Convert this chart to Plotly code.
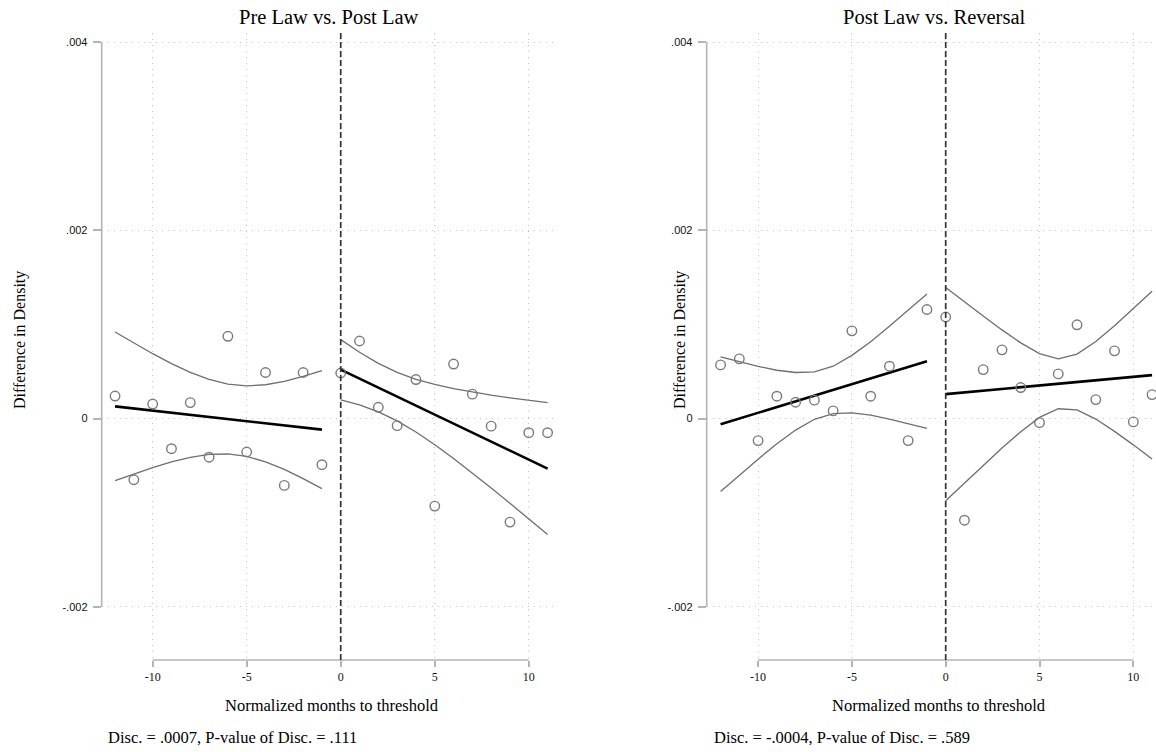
import plotly.graph_objects as go

W, H = 1156, 752

# ---------------- data ----------------
x_pre = [-12, -11, -10, -9, -8, -7, -6, -5, -4, -3, -2, -1]
x_post = [0, 1, 2, 3, 4, 5, 6, 7, 8, 9, 10, 11]

# Panel 1: Pre Law vs. Post Law
p1_pts_pre = [0.00024, -0.00065, 0.000155, -0.00032, 0.00017, -0.00041,
              0.000875, -0.000355, 0.00049, -0.00071, 0.00049, -0.00049]
p1_pts_post = [0.000485, 0.000825, 0.00012, -0.000075, 0.000415, -0.00093,
               0.00058, 0.00026, -0.00008, -0.0011, -0.00015, -0.00015]
p1_fit_pre = [0.000130, -0.000117]      # at x = -12, -1
p1_fit_post = [0.000520, -0.000531]     # at x = 0, 11
p1_up_pre = [0.000920, 0.000803, 0.000690, 0.000585, 0.000491, 0.000416,
             0.000366, 0.000348, 0.000360, 0.000396, 0.000448, 0.000511]
p1_lo_pre = [-0.000660, -0.000587, -0.000520, -0.000459, -0.000411, -0.000380,
             -0.000376, -0.000402, -0.000460, -0.000540, -0.000638, -0.000745]
p1_up_post = [0.000840, 0.000705, 0.000587, 0.000492, 0.000418, 0.000363,
              0.000318, 0.000281, 0.000250, 0.000221, 0.000196, 0.000171]
p1_lo_post = [0.000200, 0.000145, 0.000071, -0.000024, -0.000142, -0.000277,
              -0.000424, -0.000579, -0.000738, -0.000901, -0.001066, -0.001233]

# Panel 2: Post Law vs. Reversal
p2_pts_pre = [0.000571, 0.000635, -0.000234, 0.000238, 0.000174, 0.000196,
              0.000082, 0.000933, 0.000238, 0.000557, -0.000234, 0.00116]
p2_pts_post = [0.00108, -0.00108, 0.000521, 0.000731, 0.00033, -0.000043,
               0.000475, 0.000997, 0.000202, 0.00072, -0.000035, 0.000255]
p2_fit_pre = [-0.000060, 0.000610]
p2_fit_post = [0.000260, 0.000462]
p2_up_pre = [0.000655, 0.000603, 0.000555, 0.000514, 0.000490, 0.000497,
             0.000557, 0.000672, 0.000818, 0.000981, 0.001151, 0.001325]
p2_lo_pre = [-0.000775, -0.000601, -0.000431, -0.000268, -0.000122, -0.000007,
             0.000053, 0.000060, 0.000036, -0.000005, -0.000053, -0.000105]
p2_up_post = [0.001394, 0.001240, 0.001090, 0.000943, 0.000805, 0.000691,
              0.000635, 0.000686, 0.000819, 0.000986, 0.001167, 0.001353]
p2_lo_post = [-0.000874, -0.000684, -0.000496, -0.000313, -0.000139, 0.000013,
              0.000105, 0.000092, -0.000005, -0.000136, -0.000279, -0.000429]

titles = ["Pre Law vs. Post Law", "Post Law vs. Reversal"]
notes = ["Disc. = .0007, P-value of Disc. = .111",
         "Disc. = -.0004, P-value of Disc. = .589"]
x_title = "Normalized months to threshold"
y_title = "Difference in Density"
x_ticks = [-10, -5, 0, 5, 10]
x_ticktext = ["-10", "-5", "0", "5", "10"]
y_ticks = [-0.002, 0, 0.002, 0.004]
y_ticktext = ["-.002", "0", ".002", ".004"]

# ---------------- figure ----------------
SERIF = "Liberation Serif, Times New Roman, serif"
SANS = "Liberation Sans, Arial, sans-serif"
CI_COL = "#6e6e6e"
PT_COL = "#7a7a7a"
AX_COL = "#b4b4b4"
GRID_COL = "#c4c4c4"

fig = go.Figure()

panels = [
    ("x", "y", p1_pts_pre, p1_pts_post, p1_fit_pre, p1_fit_post,
     p1_up_pre, p1_lo_pre, p1_up_post, p1_lo_post),
    ("x2", "y2", p2_pts_pre, p2_pts_post, p2_fit_pre, p2_fit_post,
     p2_up_pre, p2_lo_pre, p2_up_post, p2_lo_post),
]

for xa, ya, pts_pre, pts_post, fit_pre, fit_post, up_pre, lo_pre, up_post, lo_post in panels:
    for xs, ys in [(x_pre, up_pre), (x_pre, lo_pre), (x_post, up_post), (x_post, lo_post)]:
        fig.add_trace(go.Scatter(x=xs, y=ys, mode="lines", xaxis=xa, yaxis=ya,
                                 line=dict(color=CI_COL, width=1.3), showlegend=False,
                                 hoverinfo="skip"))
    fig.add_trace(go.Scatter(x=[x_pre[0], x_pre[-1]], y=fit_pre, mode="lines",
                             xaxis=xa, yaxis=ya, line=dict(color="black", width=2.6),
                             showlegend=False))
    fig.add_trace(go.Scatter(x=[x_post[0], x_post[-1]], y=fit_post, mode="lines",
                             xaxis=xa, yaxis=ya, line=dict(color="black", width=2.6),
                             showlegend=False))
    fig.add_trace(go.Scatter(x=x_pre + x_post, y=pts_pre + pts_post, mode="markers",
                             xaxis=xa, yaxis=ya, cliponaxis=False,
                             marker=dict(symbol="circle-open", size=9.5,
                                         color=PT_COL, line=dict(width=1.4, color=PT_COL)),
                             showlegend=False))

def px(v):
    return v / W

def py(v):
    return 1 - v / H

y_dom = [py(660), py(33)]
y_range = [-0.002566, 0.004099]

common_x = dict(tickvals=x_ticks, ticktext=x_ticktext, ticks="outside", ticklen=6,
                tickwidth=1.5, tickcolor=AX_COL, showline=False, zeroline=False,
                showgrid=True, gridcolor=GRID_COL, griddash="1px,5px", gridwidth=1.3,
                tickfont=dict(family=SERIF, size=12, color="#111"))
common_y = dict(tickvals=y_ticks, ticktext=y_ticktext, ticks="outside", ticklen=8,
                tickwidth=1.5, tickcolor=AX_COL, showline=False, zeroline=False,
                showgrid=True, gridcolor=GRID_COL, griddash="1px,5px", gridwidth=1.3,
                range=y_range, domain=y_dom, ticklabelstandoff=3,
                tickfont=dict(family=SANS, size=11, color="#111"))

fig.update_layout(
    width=W, height=H,
    margin=dict(l=0, r=0, t=0, b=0),
    paper_bgcolor="white", plot_bgcolor="white",
    xaxis=dict(domain=[px(101.7), px(557)], range=[-12.71, 11.5], anchor="y", **common_x),
    yaxis=dict(anchor="x", **common_y),
    xaxis2=dict(domain=[px(706.7), 1.0], range=[-12.74, 11.21], anchor="y2", **common_x),
    yaxis2=dict(anchor="x2", **common_y),
)

shapes = []
for xa, ya in [("x", "y"), ("x2", "y2")]:
    # partial axis lines (only over tick span)
    shapes.append(dict(type="line", xref=f"{xa} domain", yref=ya, x0=0, x1=0,
                       y0=y_ticks[0], y1=y_ticks[-1], line=dict(color=AX_COL, width=1.6)))
    shapes.append(dict(type="line", xref=xa, yref=f"{ya} domain", x0=x_ticks[0],
                       x1=x_ticks[-1], y0=0, y1=0, line=dict(color=AX_COL, width=1.6)))
    # threshold line
    shapes.append(dict(type="line", xref=xa, yref=f"{ya} domain", x0=0, x1=0, y0=0, y1=1,
                       line=dict(color="#333333", width=1.7, dash="6px,3px")))
fig.update_layout(shapes=shapes)

ann = []
for i, cx in enumerate([329, 934]):
    ann.append(dict(text=titles[i], x=px(cx), y=py(16.7), xref="paper", yref="paper",
                    showarrow=False, xanchor="center", yanchor="middle",
                    font=dict(family=SERIF, size=20.5, color="black")))
for cx in [332, 939]:
    ann.append(dict(text=x_title, x=px(cx), y=py(705.7), xref="paper", yref="paper",
                    showarrow=False, xanchor="center", yanchor="middle",
                    font=dict(family=SERIF, size=16.5, color="black")))
for cx in [20, 680]:
    ann.append(dict(text=y_title, x=px(cx), y=py(340), xref="paper", yref="paper",
                    showarrow=False, xanchor="center", yanchor="middle", textangle=-90,
                    font=dict(family=SERIF, size=16, color="black")))
for i, lx in enumerate([105.6, 711.5]):
    ann.append(dict(text=notes[i], x=px(lx), y=py(737.7), xref="paper", yref="paper",
                    showarrow=False, xanchor="left", yanchor="middle",
                    font=dict(family=SERIF, size=16.5, color="black")))
fig.update_layout(annotations=ann)

fig.write_html("out.html")
